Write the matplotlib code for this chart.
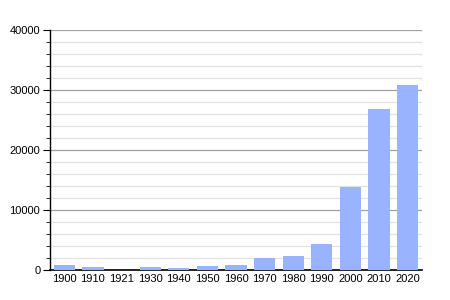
import matplotlib
matplotlib.use("Agg")
import matplotlib.pyplot as plt
from matplotlib.ticker import MultipleLocator

years = ["1900", "1910", "1921", "1930", "1940", "1950", "1960",
         "1970", "1980", "1990", "2000", "2010", "2020"]
population = [780, 560, 0, 560, 390, 670, 890,
              2060, 2390, 4390, 13890, 26830, 30830]

plt.rcParams['font.family'] = ['Liberation Sans', 'DejaVu Sans']

fig = plt.figure(figsize=(4.5, 3), dpi=100)
ax = fig.add_axes([50 / 450, 30 / 300, 372 / 450, 240 / 300])

x = range(len(years))
ax.bar(x, population, width=0.74, color="#99b3ff", zorder=3)

ax.set_ylim(0, 40000)
ax.set_xlim(-0.5, len(years) - 0.5)
ax.yaxis.set_major_locator(MultipleLocator(10000))
ax.yaxis.set_minor_locator(MultipleLocator(2000))
ax.grid(axis="y", which="major", color="#a0a0a0", linewidth=0.9, zorder=0)
ax.grid(axis="y", which="minor", color="#e2e2e2", linewidth=0.9, zorder=0)

ax.set_xticks(list(x))
ax.set_xticklabels(years)
ax.tick_params(axis="x", length=0, labelsize=8, pad=3)
ax.tick_params(axis="y", which="major", length=5, labelsize=8, pad=2)
ax.tick_params(axis="y", which="minor", length=3)

for side in ["top", "right"]:
    ax.spines[side].set_visible(False)
ax.spines["left"].set_linewidth(1)
ax.spines["bottom"].set_linewidth(1.2)

fig.savefig("out.png", dpi=100)
